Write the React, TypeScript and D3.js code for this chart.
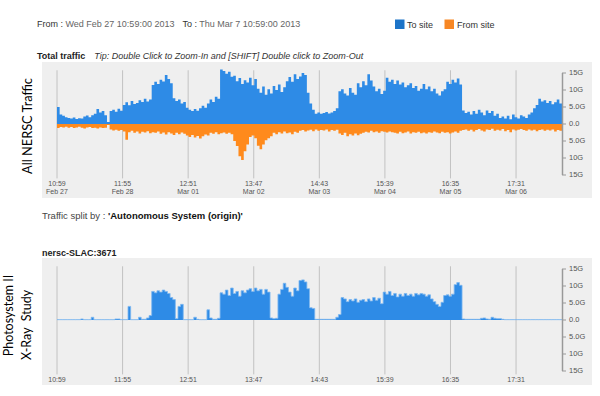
import React from 'react';
import * as d3 from 'd3';

// hourly totals in G, starting Wed Feb 27 2013 10:59
const toSite = [
  5.0, 2.8, 2.4, 2.0, 1.8, 1.6, 1.9, 1.5, 1.7, 1.6, 2.2, 2.5, 2.0, 2.6, 3.0, 4.4,
  3.4, 3.8, 2.6, 0.6, 3.8, 4.2, 3.6, 4.5, 3.9, 5.6, 6.4, 5.5, 6.8, 5.9, 6.2, 7.0,
  6.5, 7.4, 6.6, 7.2, 11.5, 12.4, 11.8, 13.0, 12.5, 14.4, 13.2, 12.0, 7.6, 6.8, 7.2, 6.0,
  6.5, 4.8, 4.2, 3.8, 4.4, 3.9, 4.6, 5.4, 4.8, 6.0, 7.2, 6.5, 8.0, 7.4, 16.0, 15.6,
  14.8, 15.4, 13.9, 14.2, 12.6, 13.5, 11.8, 12.9, 12.2, 13.6, 11.4, 13.2, 10.4, 9.2, 11.0, 8.6,
  10.2, 9.0, 11.2, 10.0, 11.6, 9.4, 10.8, 12.6, 13.8, 12.4, 14.6, 13.2, 14.0, 15.0, 14.4, 9.2,
  6.0, 4.2, 3.0, 3.4, 3.0, 3.2, 3.5, 3.1, 3.4, 3.8, 4.6, 9.6, 10.2, 9.0, 8.4, 10.6,
  9.2, 8.6, 12.0, 10.8, 12.6, 11.4, 14.6, 12.8, 11.0, 9.6, 10.4, 8.8, 9.8, 13.6, 12.4, 13.0,
  11.8, 12.8, 11.6, 12.2, 10.8, 11.4, 12.0, 10.6, 11.2, 9.8, 10.4, 11.8, 10.2, 11.0, 9.6, 10.4,
  9.0, 8.4, 9.6, 10.2, 12.4, 11.8, 13.0, 12.2, 13.4, 11.6, 4.0, 3.2, 3.6, 2.8, 3.8, 3.0,
  4.2, 3.4, 2.6, 4.0, 3.2, 3.8, 2.4, 3.0, 1.8, 2.2, 1.6, 2.4, 1.4, 2.8, 2.0, 1.6,
  2.6, 2.2, 1.8, 2.8, 3.4, 4.6, 5.6, 7.4, 6.6, 7.0, 6.2, 6.8, 5.8, 6.4, 7.2, 6.0
];

const fromSite = [
  1.2, 0.9, 1.0, 0.8, 1.1, 0.9, 1.2, 1.0, 0.8, 1.1, 1.3, 1.0, 0.9, 1.2, 1.1, 1.3,
  1.0, 1.2, 1.1, 0.3, 1.6, 1.9, 1.7, 2.0, 1.8, 2.2, 4.6, 2.4, 2.0, 2.6, 2.2, 2.8,
  2.3, 2.5, 2.1, 2.7, 2.4, 2.6, 2.2, 2.9, 2.5, 3.1, 2.4, 2.8, 3.2, 2.6, 3.0, 2.5,
  2.9, 3.4, 3.8, 3.2, 4.0, 3.5, 4.3, 3.6, 3.1, 3.4, 2.6, 2.9, 2.4, 3.0, 2.7, 2.5,
  2.9, 2.6, 3.0, 5.0, 6.5, 9.5, 10.6, 8.0, 6.0, 3.8, 3.4, 4.2, 6.4, 7.4, 6.0, 4.8,
  4.2, 3.6, 2.6, 3.0, 2.4, 2.8, 2.2, 2.7, 2.5, 3.0, 2.3, 2.6, 2.0, 1.8, 2.2, 1.9,
  1.7, 2.1, 1.6, 2.0, 1.8, 1.9, 1.6, 2.2, 1.8, 2.0, 1.7, 2.8, 3.2, 2.6, 3.6, 3.0,
  3.4, 2.8, 3.3, 2.9, 2.6, 2.3, 2.5, 2.0, 2.4, 2.2, 2.6, 2.1, 2.3, 2.5, 2.2, 2.4,
  2.6, 2.8, 2.3, 2.7, 2.5, 2.2, 2.8, 2.4, 2.6, 2.3, 2.7, 2.5, 2.8, 2.4, 2.6, 2.2,
  2.5, 2.7, 2.3, 2.6, 2.4, 2.8, 2.5, 2.2, 2.6, 2.0, 1.8, 1.6, 2.0, 1.7, 2.2, 1.8,
  1.5, 1.9, 2.2, 1.6, 1.8, 1.4, 2.0, 1.7, 1.9, 1.5, 2.1, 1.8, 2.4, 1.6, 1.9, 1.7,
  1.5, 1.8, 2.0, 1.6, 1.9, 1.7, 2.1, 1.8, 1.6, 2.0, 1.7, 1.9, 1.6, 2.2, 1.8, 2.0
];

const slacToSite = [
  0.1, 0.1, 0.1, 0.1, 0.1, 0.1, 0.1, 0.1, 0.1, 0.3, 0.1, 0.1, 0.1, 0.8, 0.1, 0.1,
  0.1, 0.1, 0.1, 0.1, 0.1, 0.1, 0.3, 0.3, 0.1, 0.1, 0.1, 4.0, 0.1, 0.1, 0.1, 0.8,
  0.2, 0.2, 0.6, 1.3, 8.4, 8.0, 8.6, 8.2, 8.8, 8.4, 7.8, 6.6, 6.0, 0.4, 4.0, 4.6,
  0.1, 0.1, 0.1, 0.1, 0.8, 0.2, 0.1, 0.1, 0.1, 3.0, 0.6, 0.2, 0.2, 0.5, 8.0, 7.6,
  8.8, 7.2, 9.4, 7.8, 8.4, 7.0, 8.6, 8.0, 8.8, 9.2, 8.4, 9.4, 8.6, 9.0, 7.6, 9.0,
  8.2, 0.6, 0.4, 0.5, 7.6, 9.0, 10.8, 9.6, 8.2, 7.0, 9.4, 8.6, 11.6, 11.8, 11.2, 9.2,
  3.6, 3.4, 0.2, 0.2, 0.2, 0.2, 0.2, 0.2, 0.2, 0.2, 0.8, 1.6, 6.6, 6.2, 5.4, 6.0,
  5.6, 6.2, 5.2, 5.8, 6.0, 5.4, 6.2, 5.6, 6.6, 5.8, 6.4, 4.8, 8.2, 7.6, 8.4, 7.2,
  7.8, 6.8, 7.6, 7.0, 7.8, 7.2, 7.6, 7.0, 7.8, 7.4, 7.8, 7.6, 7.0, 7.4, 6.2, 5.4,
  4.6, 4.0, 5.2, 7.2, 7.4, 7.0, 7.6, 10.4, 11.0, 10.2, 0.3, 0.2, 0.2, 0.2, 0.2, 0.2,
  0.2, 0.5, 0.6, 0.3, 0.2, 0.8, 0.5, 0.4, 0.4, 0.2, 0.1, 0.1, 0.1, 0.1, 0.1, 0.1,
  0.1, 0.1, 0.1, 0.1, 0.1, 0.1, 0.1, 0.1, 0.1, 0.1, 0.1, 0.1, 0.1, 0.1, 0.1, 0.1
];

const yTicks = [-15, -10, -5, 0, 5, 10, 15];
const tickStepMinutes = 1496;

const start = new Date(2013, 1, 27, 10, 59);
const end = d3.timeHour.offset(start, toSite.length);
const xTicks = d3.range(8).map((i) => d3.timeMinute.offset(start, i * tickStepMinutes));

const BLUE = '#2e8be6';
const ORANGE = '#ff8a1c';
const FONT = '"Liberation Sans", Arial, sans-serif';
const SLIDE_FONT = 'Lato, "Open Sans", sans-serif';

const x = d3.scaleTime().domain([start, end]).range([57, 562]);

const fmtTime = d3.timeFormat('%H:%M');
const fmtDate = d3.timeFormat('%b %d');
const fmtG = (v: number) => {
  const a = Math.abs(v);
  if (a === 0) return '0.0';
  return a < 10 ? a.toFixed(1) + 'G' : a + 'G';
};

type Series = { values: number[]; sign: number; color: string; line?: string };

function Panel({ top, showDates, series }: { top: number; showDates: boolean; series: Series[] }) {
  const mid = top + 62;
  const y = d3.scaleLinear().domain([-16, 16]).range([mid + 16 * 3.4, mid - 16 * 3.4]);
  const px = (_: number, i: number) => x(d3.timeHour.offset(start, i));
  const area = (vals: number[], sign: number) =>
    d3.area<number>()
      .x(px)
      .y0(y(0))
      .y1((d) => y(sign * d))
      .curve(d3.curveStepAfter)([...vals, vals[vals.length - 1]]) || '';
  const edge = (vals: number[], sign: number) =>
    d3.line<number>()
      .x(px)
      .y((d) => y(sign * d))
      .curve(d3.curveStepAfter)([...vals, vals[vals.length - 1]]) || '';
  return (
    <g>
      <rect x={42} y={top} width={550} height={showDates ? 136 : 127} fill="#efefef" />
      {xTicks.map((t, i) => (
        <line key={i} x1={x(t)} x2={x(t)} y1={y(15.8)} y2={y(-16)} stroke="#c2c2c2" strokeWidth={1} />
      ))}
      {series.map((s, i) => (
        <g key={i}>
          <path d={area(s.values, s.sign)} fill={s.color} />
          {s.line && <path d={edge(s.values, s.sign)} fill="none" stroke={s.line} strokeWidth={0.8} />}
        </g>
      ))}
      <line x1={562.5} x2={562.5} y1={y(15)} y2={y(-15)} stroke="#999" strokeWidth={1.5} />
      {yTicks.map((v) => (
        <g key={v} transform={`translate(562,${y(v)})`}>
          <line x1={0} x2={4} stroke="#999" strokeWidth={1} />
          <text x={7} dy="0.33em" fontSize={7.5} fill="#555" fontFamily={FONT}>{fmtG(v)}</text>
        </g>
      ))}
      {xTicks.map((t, i) => (
        <g key={i}>
          <text x={x(t)} y={y(-16) + 8} textAnchor="middle" fontSize={7} fill="#555" fontFamily={FONT}>{fmtTime(t)}</text>
          {showDates && (
            <text x={x(t)} y={y(-16) + 16} textAnchor="middle" fontSize={7} fill="#555" fontFamily={FONT}>{fmtDate(t)}</text>
          )}
        </g>
      ))}
    </g>
  );
}

export default function App() {
  return (
    <svg width={600} height={396} style={{ position: 'absolute', left: 0, top: 0 }}>
      <rect width={600} height={396} fill="#fff" />
      <text x={37} y={27} fontSize={9} fontFamily={FONT} fill="#666">
        <tspan fill="#333">From : </tspan>Wed Feb 27 10:59:00 2013
        <tspan fill="#333" dx={8}>To : </tspan>Thu Mar 7 10:59:00 2013
      </text>
      <rect x={395} y={19.5} width={9.5} height={9.5} fill="#1d74c8" />
      <text x={407} y={27.5} fontSize={9} fontFamily={FONT} fill="#333">To site</text>
      <rect x={444.5} y={19.5} width={9.5} height={9.5} fill="#f78724" />
      <text x={457} y={27.5} fontSize={9} fontFamily={FONT} fill="#333">From site</text>

      <text x={37} y={59} fontSize={9} fontFamily={FONT} fill="#222">
        <tspan fontWeight="bold">Total traffic</tspan>
        <tspan dx={9} fontStyle="italic" fill="#333">Tip: Double Click to Zoom-In and [SHIFT] Double click to Zoom-Out</tspan>
      </text>

      <Panel top={62} showDates={true} series={[
        { values: toSite, sign: 1, color: BLUE },
        { values: fromSite, sign: -1, color: ORANGE },
      ]} />

      <text x={42} y={219} fontSize={9.5} fontFamily={FONT} fill="#444">
        Traffic split by : <tspan fontWeight="bold" fill="#111">'Autonomous System (origin)'</tspan>
      </text>

      <text x={42} y={256} fontSize={9} fontFamily={FONT} fontWeight="bold" fill="#222">nersc-SLAC:3671</text>

      <Panel top={258} showDates={false} series={[
        { values: slacToSite, sign: 1, color: BLUE, line: '#7db8f0' },
      ]} />

      <text transform="translate(31.5,126) rotate(-90)" textAnchor="middle" fontSize={12.8} fontFamily={SLIDE_FONT} fill="#000">All NERSC Traffic</text>
      <text transform="translate(12.5,315.5) rotate(-90)" textAnchor="middle" fontSize={12.5} fontFamily={SLIDE_FONT} fill="#000">Photosystem II</text>
      <text transform="translate(30.5,325) rotate(-90)" textAnchor="middle" fontSize={12.5} fontFamily={SLIDE_FONT} fill="#000" style={{ whiteSpace: 'pre' }}>X-Ray  Study</text>
    </svg>
  );
}
